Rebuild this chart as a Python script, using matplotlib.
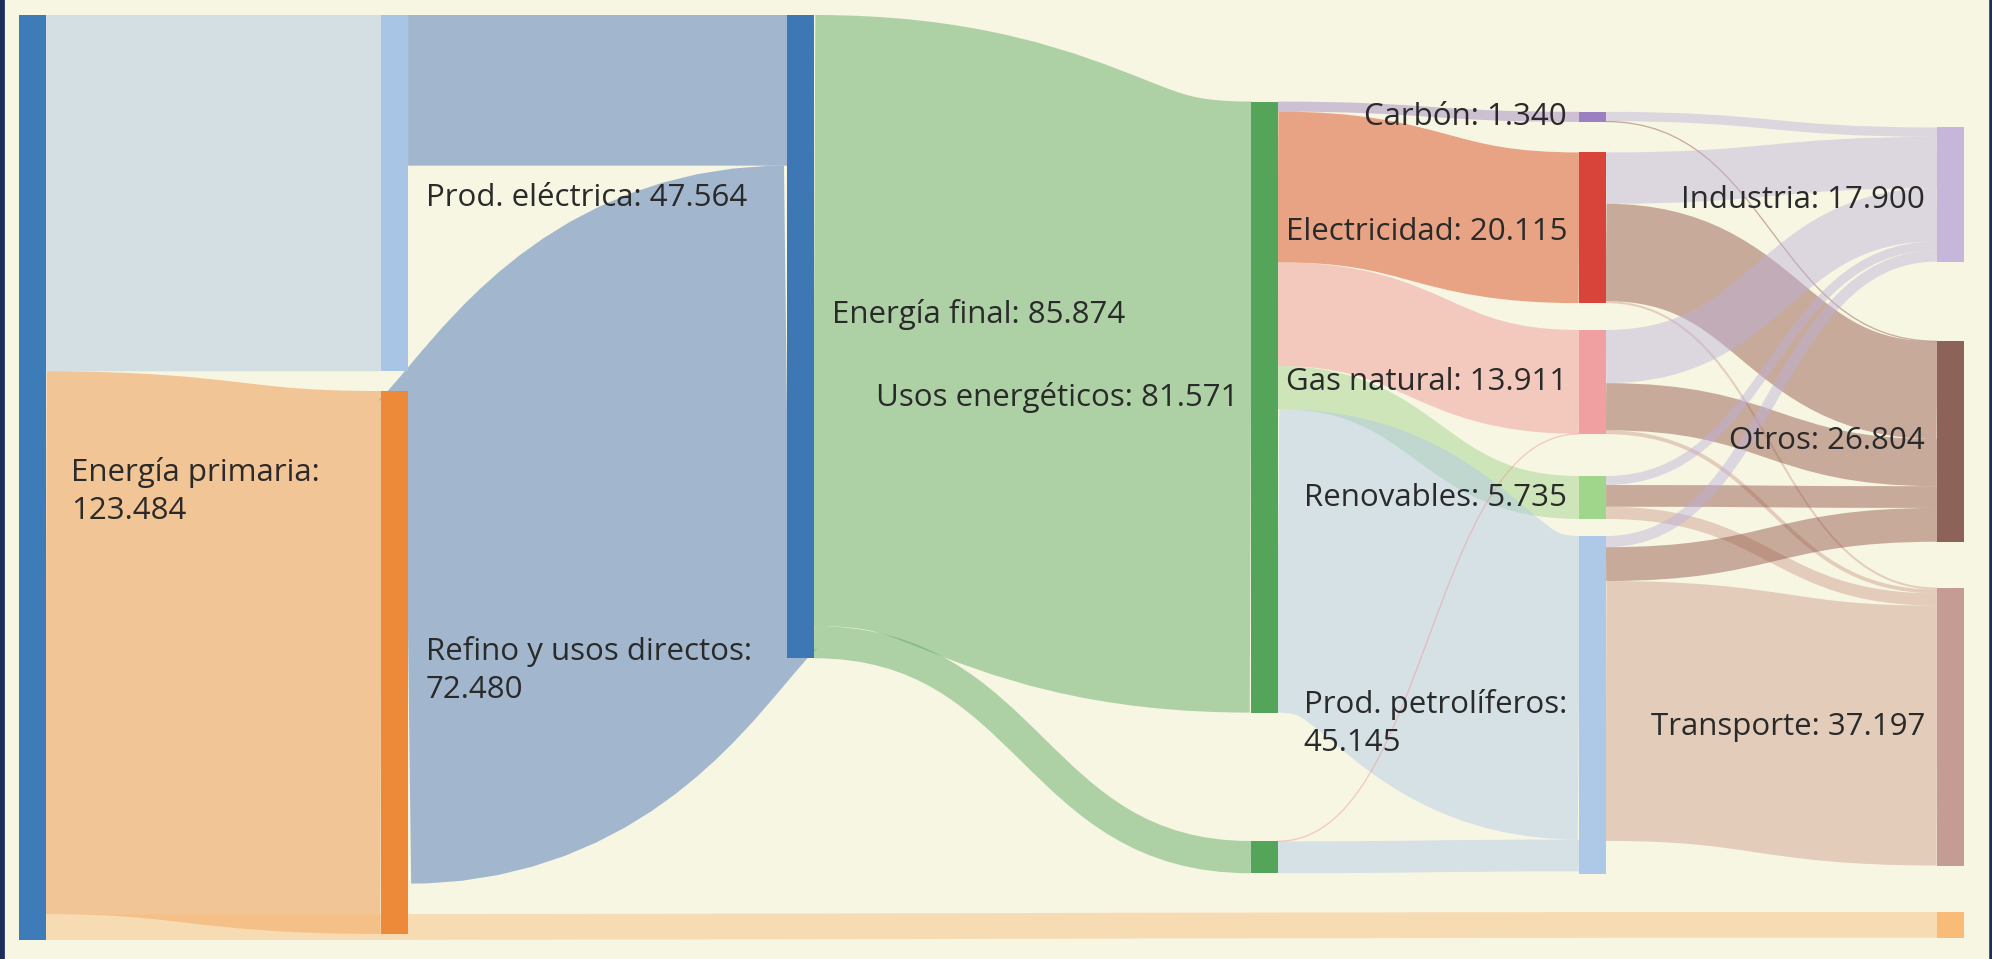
import numpy as np
import matplotlib.pyplot as plt
from matplotlib.path import Path
from matplotlib.patches import PathPatch, Rectangle

plt.rcParams['font.family'] = ['Open Sans', 'DejaVu Sans']

# Nodes (ktep)
node_names = ['Energía primaria', 'Prod. eléctrica', 'Refino y usos directos',
              'Energía final', 'Usos energéticos', 'Usos no energéticos',
              'Carbón', 'Electricidad', 'Gas natural', 'Renovables',
              'Prod. petrolíferos', 'Industria', 'Otros', 'Transporte', 'Resto']
node_values = [123.484, 47.564, 72.480, 85.874, 81.571, 4.303,
               1.340, 20.115, 13.911, 5.735, 45.145,
               17.900, 26.804, 37.197, 3.440]
node_show_label = [True] * 5 + [False] + [True] * 8 + [False]
node_two_lines = [True, False, True] + [False] * 7 + [True] + [False] * 4

# Links
link_source = [0, 0, 0, 1, 2, 3, 3, 4, 4, 4, 4, 4, 5, 5,
               6, 6, 7, 7, 7, 8, 8, 8, 9, 9, 9, 10, 10, 10]
link_target = [1, 2, 14, 3, 3, 4, 5, 6, 7, 8, 9, 10, 8, 10,
               11, 12, 11, 12, 13, 11, 12, 13, 11, 12, 13, 11, 12, 13]
link_value = [47.564, 72.480, 3.440, 20.115, 65.759, 81.571, 4.303,
              1.340, 20.115, 13.861, 5.735, 40.520, 0.050, 4.253,
              1.250, 0.090, 6.850, 13.000, 0.265, 7.100, 6.300, 0.511,
              1.200, 2.900, 1.635, 1.500, 4.514, 34.696]

# Layout (like plotly node.x / node.y, fractions)
node_col = [0, 1, 1, 2, 3, 3, 4, 4, 4, 4, 4, 5, 5, 5, 5]
col_x = [0.0095, 0.1913, 0.3951, 0.628, 0.7927, 0.9724]
node_y = [0, 0, 0.4065, 0, 0.0936, 0.893, 0.1047, 0.1486, 0.3405,
          0.4984, 0.5632, 0.1216, 0.3524, 0.619, 0.9697]
label_dy = {0: 14, 1: 5, 2: 8, 3: -22, 4: -10, 7: 4, 10: 18, 11: 5}
label_pad = {0: 25}

node_colors = ['#3e7cb9', '#a8c5e5', '#ec8a3a', '#3d78b5', '#54a45a', '#54a45a',
               '#9b7fc0', '#d9443a', '#f0a0a0', '#a0d68c', '#aec8e8',
               '#c5b6da', '#8c6259', '#c49c94', '#f8bb78']
# link colour follows the target node
link_colors = ['#3e7cb9', '#a8c5e5', '#ec8a3a', '#3c6cb6', '#54a45a', '#54a45a',
               '#9b7fc0', '#d63c10', '#f09090', '#9ad286', '#aec8e8',
               '#bdafdc', '#8e4f41', '#cb9b8a', '#f8bb78']
bg = '#f7f6e3'
link_alpha = 0.45

W, H, DPI = 1992, 959, 100
plot_top, plot_bot = 15, 940
node_w = 27
scale = (plot_bot - plot_top) / node_values[0]

fig = plt.figure(figsize=(W / DPI, H / DPI), dpi=DPI, facecolor=bg)
ax = fig.add_axes([0, 0, 1, 1])
ax.set_xlim(0, W)
ax.set_ylim(H, 0)
ax.set_facecolor(bg)
ax.set_xticks([])
ax.set_yticks([])
for side in ['top', 'bottom']:
    ax.spines[side].set_visible(False)
ax.spines['left'].set_color('#1c2d5a')
ax.spines['left'].set_linewidth(7)
ax.spines['right'].set_color('#1c2d5a')
ax.spines['right'].set_linewidth(4)

n = len(node_names)
nx = [col_x[c] * W for c in node_col]
ny = [plot_top + f * (plot_bot - plot_top) for f in node_y]

# stack links on each node: outgoing sorted by target y, incoming by source y
out_off = {}
in_off = {}
cur_out = list(ny)
cur_in = list(ny)
order_out = sorted(range(len(link_value)), key=lambda i: (link_source[i], ny[link_target[i]]))
for i in order_out:
    s = link_source[i]
    out_off[i] = cur_out[s]
    cur_out[s] += link_value[i] * scale
order_in = sorted(range(len(link_value)), key=lambda i: (link_target[i], ny[link_source[i]]))
for i in order_in:
    t = link_target[i]
    in_off[i] = cur_in[t]
    cur_in[t] += link_value[i] * scale

for i in range(len(link_value)):
    s, t, v = link_source[i], link_target[i], link_value[i]
    w = v * scale
    ys = out_off[i] + w / 2
    yt = in_off[i] + w / 2
    x0 = nx[s] + node_w
    x1 = nx[t]
    xm = (x0 + x1) / 2
    path = Path([(x0, ys), (xm, ys), (xm, yt), (x1, yt)],
                [Path.MOVETO, Path.CURVE4, Path.CURVE4, Path.CURVE4])
    ax.add_patch(PathPatch(path, fill=False, edgecolor=link_colors[t],
                           alpha=link_alpha, lw=max(w, 1.3) * 72 / DPI,
                           capstyle='butt'))

for k in range(n):
    h = node_values[k] * scale
    ax.add_patch(Rectangle((nx[k], ny[k]), node_w, h, color=node_colors[k], lw=0))
    if not node_show_label[k]:
        continue
    val = f'{node_values[k]:.3f}'
    sep = ':\n' if node_two_lines[k] else ': '
    txt = node_names[k] + sep + val
    yc = ny[k] + h / 2 + label_dy.get(k, 0)
    if node_col[k] < 3:
        ax.text(nx[k] + node_w + label_pad.get(k, 18), yc, txt, ha='left', va='center',
                fontsize=22.5, color='#2a2a2a', linespacing=1.35)
    else:
        ax.text(nx[k] - 12, yc, txt, ha='right', va='center', multialignment='left',
                fontsize=22.5, color='#2a2a2a', linespacing=1.35)

fig.savefig('out.png', dpi=DPI, facecolor=bg)
